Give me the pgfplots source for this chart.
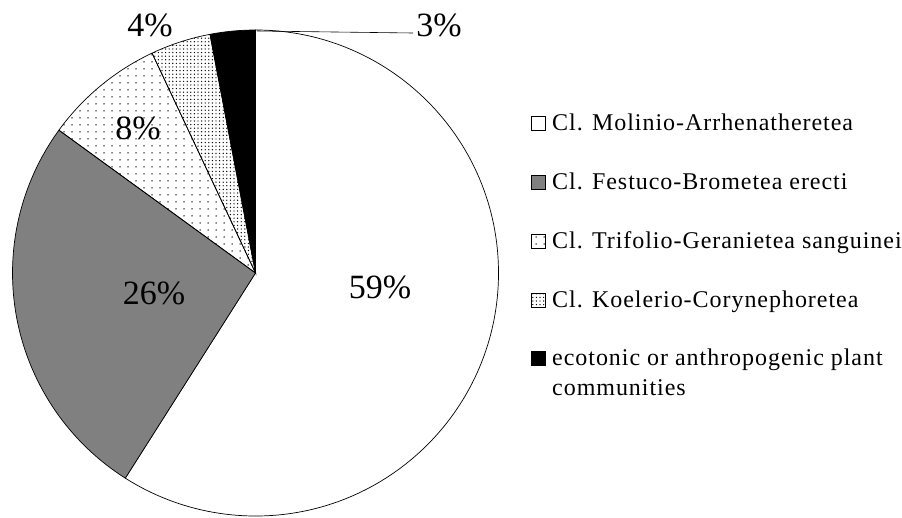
\documentclass[border=0pt]{standalone}
\usepackage{pgfplots}
\pgfplotsset{compat=1.18}
\usepackage{fontspec}
\setmainfont{Liberation Serif}
\newfontfamily\legfont[LetterSpace=4]{Liberation Serif}
\usetikzlibrary{patterns}

% dot fills for the two small classes
\pgfdeclarepatternformonly{sparse dots}{\pgfqpoint{-1pt}{-1pt}}{\pgfqpoint{1pt}{1pt}}{\pgfqpoint{8pt}{7pt}}%
  {\pgfpathcircle{\pgfqpoint{0pt}{0pt}}{0.75pt}\pgfusepath{fill}}
\pgfdeclarepatternformonly{dense dots}{\pgfqpoint{-1pt}{-1pt}}{\pgfqpoint{1pt}{1pt}}{\pgfqpoint{3.6pt}{3.6pt}}%
  {\pgfpathcircle{\pgfqpoint{0pt}{0pt}}{0.7pt}\pgfusepath{fill}}

% pie centre and radius, in axis units (1 unit = 1pt)
\def\cx{255.5}
\def\cy{273}
\def\R{243}
% #1 = share before this slice (%), #2 = share of the slice (%), #3 = style
\newcommand{\slice}[3]{%
  \draw[line width=0.7pt, #3] (axis cs:\cx,\cy)
    -- (axis cs:{\cx+\R*cos(90-3.6*#1)},{\cy-\R*sin(90-3.6*#1)})
    arc[start angle={90-3.6*#1}, end angle={90-3.6*(#1+#2)}, radius=\R pt] -- cycle;}

\begin{document}
\begin{tikzpicture}
\begin{axis}[
    x=1pt, y=1pt,
    xmin=0, xmax=902, ymin=0, ymax=517,
    y dir=reverse,
    scale only axis,
    hide axis,
    clip=false,
  ]
  \path (axis cs:0,0) rectangle (axis cs:902,517);

  % shares: 59, 26, 8, 4, 3 %
  \slice{0}{59}{fill=white}
  \slice{59}{26}{fill=gray}
  \slice{85}{8}{pattern=sparse dots}
  \slice{93}{4}{pattern=dense dots}
  \slice{97}{3}{fill=black}

  \draw[line width=0.6pt] (axis cs:257,31) -- (axis cs:413,33);

  \begin{scope}[every node/.style={font=\fontsize{34}{40}\selectfont, inner sep=0pt}]
    \node at (axis cs:380,287) {59\%};
    \node at (axis cs:154,293) {26\%};
    \node at (axis cs:138,128) {8\%};
    \node at (axis cs:150,25) {4\%};
    \node at (axis cs:439,25) {3\%};
  \end{scope}

  % legend
  \begin{scope}[every node/.style={font=\legfont\fontsize{24}{30}\selectfont, inner sep=0pt, anchor=base west}]
    \draw[line width=0.6pt, fill=white] (axis cs:531,130) rectangle (axis cs:545,116);
    \node at (axis cs:552,130) {Cl. Molinio-Arrhenatheretea};
    \draw[line width=0.6pt, fill=gray] (axis cs:531,189) rectangle (axis cs:545,175);
    \node at (axis cs:552,189) {Cl. Festuco-Brometea erecti};
    \draw[line width=0.6pt, pattern=sparse dots] (axis cs:531,248) rectangle (axis cs:545,234);
    \node at (axis cs:552,248) {Cl. Trifolio-Geranietea sanguinei};
    \draw[line width=0.6pt, pattern=dense dots] (axis cs:531,307) rectangle (axis cs:545,293);
    \node at (axis cs:552,307) {Cl. Koelerio-Corynephoretea};
    \draw[line width=0.6pt, fill=black] (axis cs:531,365) rectangle (axis cs:545,351);
    \node at (axis cs:552,365) {ecotonic or anthropogenic plant};
    \node at (axis cs:552,395) {communities};
  \end{scope}
\end{axis}
\end{tikzpicture}
\end{document}
